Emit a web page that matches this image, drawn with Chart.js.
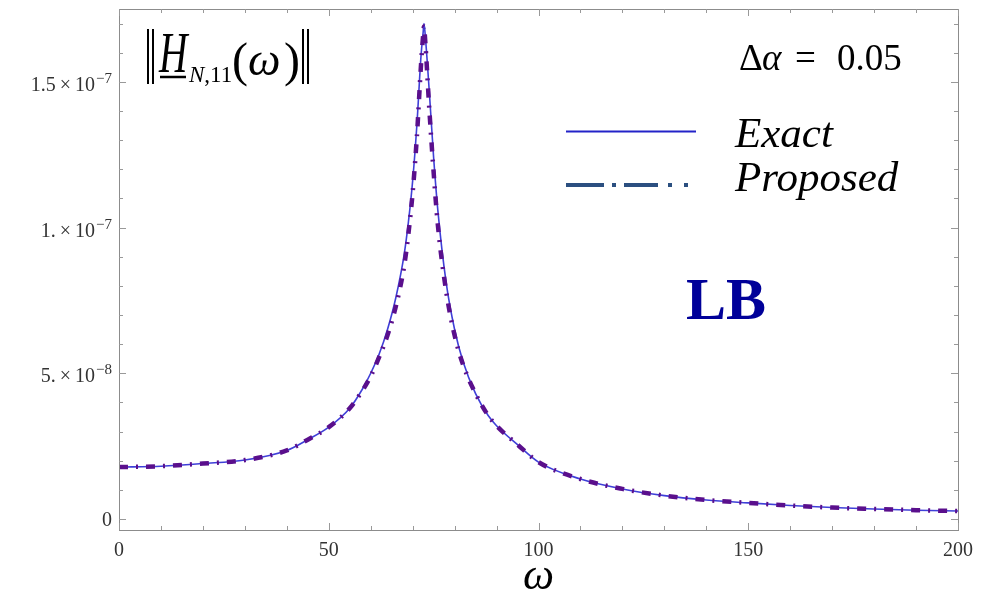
<!DOCTYPE html>
<html>
<head>
<meta charset="utf-8">
<script src="https://cdn.jsdelivr.net/npm/chart.js@4/dist/chart.umd.min.js"></script>
<style>
  html, body { margin: 0; padding: 0; background: #fff; }
</style>
</head>
<body>
<canvas id="chart" width="994" height="594"></canvas>
<script>
// frequency samples (omega) and |H_N,11| values, in units of 1e-8
const omega = [0, 10, 20, 30, 40, 45, 50, 55, 58, 60, 62, 64, 66, 68, 69, 70, 71, 72, 72.5, 72.7,
  73, 74, 75, 76, 78, 80, 82, 85, 88, 90, 95, 100, 110, 120, 130, 140, 150, 160, 170, 180, 190, 200];
const exactVals = [1.78, 1.81, 1.90, 2.02, 2.35, 2.72, 3.15, 3.80, 4.45, 5.00, 5.65, 6.50, 7.60, 9.10, 10.2, 11.6, 13.5, 15.9, 16.7, 17.0,
  16.6, 14.6, 12.4, 10.6, 8.1, 6.5, 5.4, 4.3, 3.55, 3.2, 2.55, 1.95, 1.37, 1.03, 0.80, 0.65, 0.55, 0.46, 0.39, 0.34, 0.30, 0.27];
const proposedVals = [1.78, 1.81, 1.90, 2.02, 2.35, 2.72, 3.15, 3.80, 4.40, 4.90, 5.55, 6.30, 7.30, 8.70, 9.8, 11.2, 13.1, 15.6, 16.6, 16.9,
  16.4, 14.0, 11.9, 10.1, 7.8, 6.3, 5.3, 4.3, 3.55, 3.2, 2.55, 1.95, 1.37, 1.03, 0.80, 0.65, 0.55, 0.46, 0.39, 0.34, 0.30, 0.27];

const xTickValues = [0, 50, 100, 150, 200];
const yTickValues = [0, 5, 10, 15];
const yTickMain = ['0', '5.\u2009\u00d7\u200910', '1.\u2009\u00d7\u200910', '1.5\u2009\u00d7\u200910'];
const yTickExp = ['', '\u22128', '\u22127', '\u22127'];

const serif = '"Liberation Serif", "Times New Roman", serif';

function pts(vals) {
  return omega.map((w, i) => ({ x: w, y: vals[i] }));
}

const decorations = {
  id: 'decorations',
  afterDraw(chart) {
    const ctx = chart.ctx;
    const xs = chart.scales.x, ys = chart.scales.y;
    const a = chart.chartArea;
    ctx.save();

    // frame
    ctx.strokeStyle = '#8c8c8c';
    ctx.lineWidth = 1;
    ctx.strokeRect(Math.round(a.left) + 0.5, Math.round(a.top) + 0.5,
      Math.round(a.right - a.left), Math.round(a.bottom - a.top));

    // inward ticks on all four sides
    ctx.strokeStyle = '#999';
    ctx.beginPath();
    for (let w = 0; w <= 200; w += 10) {
      const px = Math.round(xs.getPixelForValue(w)) + 0.5;
      const len = w % 50 === 0 ? 7 : 4;
      ctx.moveTo(px, a.bottom); ctx.lineTo(px, a.bottom - len);
      ctx.moveTo(px, a.top); ctx.lineTo(px, a.top + len);
    }
    for (let v = 0; v <= 17; v += 1) {
      const py = Math.round(ys.getPixelForValue(v)) + 0.5;
      const len = v % 5 === 0 ? 7 : 4;
      ctx.moveTo(a.left, py); ctx.lineTo(a.left + len, py);
      ctx.moveTo(a.right, py); ctx.lineTo(a.right - len, py);
    }
    ctx.stroke();

    // y tick labels with exponents
    ctx.fillStyle = '#333';
    ctx.textBaseline = 'alphabetic';
    ctx.textAlign = 'right';
    yTickValues.forEach((v, i) => {
      const py = ys.getPixelForValue(v);
      const right = 112;
      if (yTickExp[i]) {
        ctx.font = '15px ' + serif;
        const ew = ctx.measureText(yTickExp[i]).width;
        ctx.fillText(yTickExp[i], right, py + 1);
        ctx.font = '20px ' + serif;
        ctx.fillText(yTickMain[i], right - ew - 1, py + 9);
      } else {
        ctx.font = '20px ' + serif;
        ctx.fillText(yTickMain[i], right, py + 7);
      }
    });

    // x axis title
    ctx.fillStyle = '#000';
    ctx.textAlign = 'center';
    ctx.font = 'italic 44px ' + serif;
    ctx.fillText('\u03c9', xs.getPixelForValue(100), 589);

    // formula ||H_N,11(w)||
    ctx.strokeStyle = '#000';
    ctx.lineWidth = 2;
    ctx.beginPath();
    [148, 153, 303, 308].forEach(x => { ctx.moveTo(x, 29); ctx.lineTo(x, 84); });
    ctx.stroke();
    ctx.textAlign = 'left';
    ctx.save();
    ctx.translate(159, 72);
    ctx.scale(0.68, 1);
    ctx.font = 'italic 58px ' + serif;
    ctx.fillText('H', 0, 0);
    ctx.restore();
    ctx.lineWidth = 2.5;
    ctx.beginPath(); ctx.moveTo(160, 77); ctx.lineTo(186, 77); ctx.stroke();
    ctx.font = 'italic 23px ' + serif;
    ctx.fillText('N', 189, 82);
    const nw = ctx.measureText('N').width;
    ctx.font = '23px ' + serif;
    ctx.fillText(',11', 189 + nw, 82);
    ctx.font = '48px ' + serif;
    ctx.fillText('(', 232, 76);
    ctx.fillText(')', 284, 76);
    ctx.font = 'italic 46px ' + serif;
    ctx.fillText('\u03c9', 248, 75);

    // delta alpha
    ctx.font = '37px ' + serif;
    ctx.fillText('\u0394', 739, 70);
    ctx.font = 'italic 37px ' + serif;
    ctx.fillText('\u03b1', 762, 70);
    ctx.font = '37px ' + serif;
    ctx.fillText('=', 795, 70);
    ctx.fillText('0.05', 837, 70);

    // legend
    ctx.strokeStyle = '#2323c8';
    ctx.lineWidth = 2;
    ctx.beginPath(); ctx.moveTo(566, 131.5); ctx.lineTo(696, 131.5); ctx.stroke();
    ctx.strokeStyle = '#2b4f80';
    ctx.lineWidth = 4;
    ctx.setLineDash([38, 8, 4, 8, 34, 10, 4, 12, 4, 8]);
    ctx.beginPath(); ctx.moveTo(566, 185); ctx.lineTo(696, 185); ctx.stroke();
    ctx.setLineDash([]);
    ctx.font = 'italic 43px ' + serif;
    ctx.fillStyle = '#000';
    ctx.fillText('Exact', 735, 147);
    ctx.fillText('Proposed', 735, 191);

    // LB tag
    ctx.font = 'bold 60px ' + serif;
    ctx.fillStyle = '#000099';
    ctx.fillText('LB', 686, 319);

    ctx.restore();
  }
};

new Chart(document.getElementById('chart').getContext('2d'), {
  type: 'line',
  data: {
    datasets: [
      {
        label: 'Exact',
        data: pts(exactVals),
        borderColor: '#3f3fd8',
        borderWidth: 1.6,
        pointRadius: 0,
        cubicInterpolationMode: 'monotone',
        order: 2
      },
      {
        label: 'Proposed',
        data: pts(proposedVals),
        borderColor: '#5a0f8c',
        borderWidth: 4.5,
        borderDash: [9, 8, 2, 8],
        pointRadius: 0,
        cubicInterpolationMode: 'monotone',
        order: 1
      }
    ]
  },
  options: {
    responsive: false,
    animation: false,
    devicePixelRatio: 1,
    layout: { padding: { left: 119, top: 9, right: 36, bottom: 0 } },
    plugins: {
      legend: { display: false },
      tooltip: { enabled: false }
    },
    scales: {
      x: {
        type: 'linear',
        min: 0,
        max: 200,
        grid: { display: false, drawTicks: false },
        border: { display: false },
        afterBuildTicks: s => { s.ticks = xTickValues.map(v => ({ value: v })); },
        ticks: {
          padding: 9,
          color: '#333',
          font: { family: serif, size: 20 },
          maxRotation: 0
        },
        afterFit: s => { s.height = 64; }
      },
      y: {
        display: false,
        min: -0.38,
        max: 17.5
      }
    }
  },
  plugins: [decorations]
});
</script>
</body>
</html>
